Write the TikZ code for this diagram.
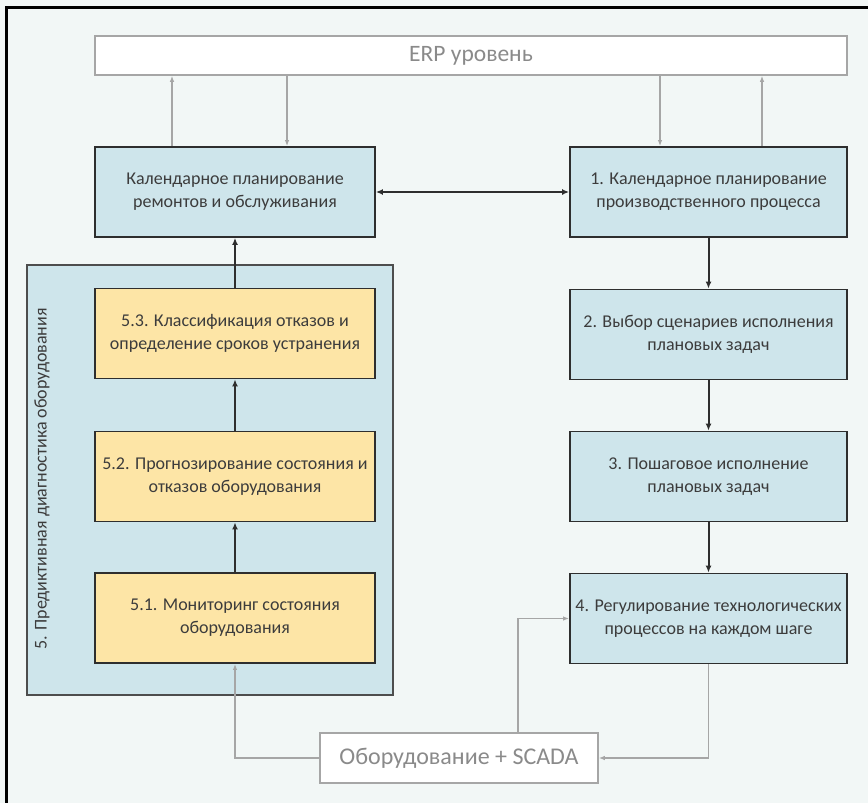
\documentclass[tikz,border=0pt]{standalone}
\usepackage{fontspec}
\setmainfont{Carlito}
\usetikzlibrary{arrows.meta,calc}
\definecolor{bgc}{HTML}{F2F7F6}
\definecolor{bluef}{HTML}{CEE5EB}
\definecolor{yelf}{HTML}{FDE5A6}
\definecolor{txtc}{HTML}{3C3C3C}
\definecolor{grayln}{HTML}{A6A6A6}
\definecolor{graytxt}{HTML}{8A8A8A}
\definecolor{brd}{HTML}{2E2E2E}
\tikzset{
  bluebox/.style={draw=brd,line width=1.8pt,fill=bluef,minimum width=#1,minimum height=90pt,
    align=center,text=txtc,font=\fontsize{18}{23}\selectfont,inner sep=2pt},
  yelbox/.style={draw=brd,line width=1.8pt,fill=yelf,minimum width=280pt,minimum height=90pt,
    align=center,text=txtc,font=\fontsize{18}{23}\selectfont,inner sep=2pt},
  whitebox/.style={draw=grayln,line width=1.6pt,fill=white,text=graytxt,inner sep=0pt},
  blackarr/.style={draw=brd,line width=2pt,-{Latex[length=7pt,width=6pt]}},
  grayarr/.style={draw=grayln,line width=1.3pt,-{Latex[length=6pt,width=4.5pt]}},
}
\begin{document}
\begin{tikzpicture}[x=1pt,y=-1pt]
\useasboundingbox (0,0) rectangle (868,803);
\fill[bgc] (0,0) rectangle (868,803);
\draw[black,line width=3pt] (6.5,803) -- (6.5,7.5) -- (868,7.5);

% ERP level
\node[whitebox,minimum width=752pt,minimum height=39pt,font=\fontsize{23.5}{26}\selectfont] (erp) at (471,55.5) {ERP уровень};

% group
\node[draw=brd!85,line width=1.8pt,fill=bluef,minimum width=366pt,minimum height=430pt] (grp) at (210,480) {};
\node[rotate=90,text=txtc,font=\fontsize{18}{23}\selectfont] (grplab) at (42,479) {5. Предиктивная диагностика оборудования};

% left column
\node[bluebox=280pt] (calL) at (235,192) {Календарное планирование\\ремонтов и обслуживания};
\node[yelbox] (g53) at (235,333.5) {5.3. Классификация отказов и\\определение сроков устранения};
\node[yelbox] (g52) at (235,476.5) {5.2. Прогнозирование состояния и\\отказов оборудования};
\node[yelbox] (g51) at (235,618) {5.1. Мониторинг состояния\\оборудования};

% right column
\node[bluebox=277pt] (calR) at (708.5,192) {1. Календарное планирование\\производственного процесса};
\node[bluebox=277pt] (r2) at (708.5,334.5) {2. Выбор сценариев исполнения\\плановых задач};
\node[bluebox=277pt] (r3) at (708.5,476.5) {3. Пошаговое исполнение\\плановых задач};
\node[bluebox=277pt] (r4) at (708.5,618.5) {4. Регулирование технологических\\процессов на каждом шаге};

% equipment
\node[whitebox,minimum width=278pt,minimum height=50pt,font=\fontsize{24}{28}\selectfont] (scada) at (459,758) {Оборудование + SCADA};

% ERP connectors
\coordinate (aL1) at ([xshift=-63pt]calL.north);
\coordinate (aL2) at ([xshift=52pt]calL.north);
\coordinate (aR1) at ([xshift=-48.5pt]calR.north);
\coordinate (aR2) at ([xshift=53.5pt]calR.north);
\draw[grayarr] (aL1) -- (aL1 |- erp.south);
\draw[grayarr] (aL2 |- erp.south) -- (aL2);
\draw[grayarr] (aR1 |- erp.south) -- (aR1);
\draw[grayarr] (aR2) -- (aR2 |- erp.south);

% black connectors
\draw[blackarr,{Latex[length=7pt,width=6pt]}-{Latex[length=7pt,width=6pt]}] (calL.east) -- (calR.west);
\draw[blackarr] (g53.north) -- (calL.south);
\draw[blackarr] (g52.north) -- (g53.south);
\draw[blackarr] (g51.north) -- (g52.south);
\draw[blackarr] (calR.south) -- (r2.north);
\draw[blackarr] (r2.south) -- (r3.north);
\draw[blackarr] (r3.south) -- (r4.north);

% equipment connectors
\coordinate (s1) at ([xshift=59pt]scada.north);
\draw[grayarr] (s1) |- (r4.west);
\draw[grayarr] (r4.south) |- (scada.east);
\draw[grayarr] (scada.west) -| (g51.south);
\end{tikzpicture}
\end{document}
